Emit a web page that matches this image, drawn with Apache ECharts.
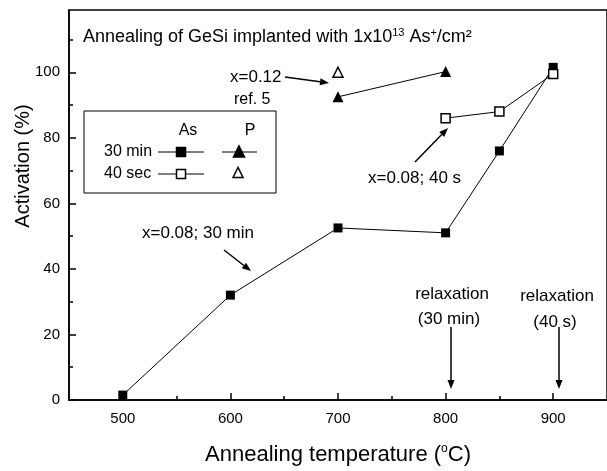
<!DOCTYPE html>
<html>
<head>
<meta charset="utf-8">
<script src="https://cdn.jsdelivr.net/npm/echarts@6/dist/echarts.min.js"></script>
<style>
  html, body { margin: 0; padding: 0; background: #fff; }
  #chart { width: 607px; height: 471px; }
</style>
</head>
<body>
<div id="chart"></div>
<script>
// activation vs annealing temperature, GeSi implanted with As / P
const tempsAs30 = [500, 600, 700, 800, 850, 900];
const actAs30 = [1.5, 32, 52.5, 51, 76, 101.5];
const tempsAs40 = [800, 850, 900];
const actAs40 = [86, 88, 99.5];
const tempsP30 = [700, 800];
const actP30 = [92.5, 100.2];
const tempsP40 = [700];
const actP40 = [100];

const xLabels = [500, 600, 700, 800, 900];
const xMinor = [550, 650, 750, 850];
const yLabels = [0, 20, 40, 60, 80, 100];

const FONT = "'Liberation Sans', Arial, sans-serif";
const zip = (xs, ys) => xs.map((x, i) => [x, ys[i]]);

// arrow annotation: a line with a filled head at (x2, y2)
function arrow(x1, y1, x2, y2) {
  const a = Math.atan2(y2 - y1, x2 - x1);
  const len = 9, w = 3.5;
  const bx = x2 - len * Math.cos(a), by = y2 - len * Math.sin(a);
  const px = -Math.sin(a) * w, py = Math.cos(a) * w;
  return [
    { type: "line", shape: { x1, y1, x2: bx, y2: by }, style: { stroke: "#000", lineWidth: 1.5 } },
    { type: "polygon", shape: { points: [[x2, y2], [bx + px, by + py], [bx - px, by - py]] }, style: { fill: "#000" } },
  ];
}

function txt(x, y, text, extra) {
  return {
    type: "text", x, y,
    style: Object.assign({ text, font: "17px " + FONT, fill: "#000", textVerticalAlign: "middle" }, extra || {}),
  };
}

const tri = (cx, cy, s, fill) => ({
  type: "polygon",
  shape: { points: [[cx, cy - s * 0.55], [cx - s / 2, cy + s * 0.45], [cx + s / 2, cy + s * 0.45]] },
  style: { fill, stroke: "#000", lineWidth: 1.5 },
});
const sq = (cx, cy, s, fill) => ({
  type: "rect", shape: { x: cx - s / 2, y: cy - s / 2, width: s, height: s },
  style: { fill, stroke: "#000", lineWidth: 1.5 },
});
const seg = (x1, y1, x2, y2) => ({ type: "line", shape: { x1, y1, x2, y2 }, style: { stroke: "#000", lineWidth: 1 } });

const legend = [
  { type: "rect", shape: { x: 84, y: 111, width: 192, height: 82 }, style: { fill: "#fff", stroke: "#000", lineWidth: 1 } },
  txt(188, 131, "As", { font: "16px " + FONT, textAlign: "center" }),
  txt(250, 131, "P", { font: "16px " + FONT, textAlign: "center" }),
  txt(104, 152, "30 min", { font: "16px " + FONT }),
  txt(104, 174, "40 sec", { font: "16px " + FONT }),
  seg(158, 152, 204, 152), sq(181, 152, 9, "#000"),
  seg(222, 152, 257, 152), tri(239, 152, 11, "#000"),
  seg(158, 174, 204, 174), sq(181, 174, 9, "#fff"),
  tri(238, 173, 10, "#fff"),
];

const sup = { fontSize: 11, verticalAlign: "top", padding: [0, 0, 9, 0], fontFamily: FONT };

const notes = [
  {
    type: "text", x: 83, y: 37,
    style: {
      text: "Annealing of GeSi implanted with 1x10{s|13} As{s|+}/cm²",
      font: "18px " + FONT, fill: "#000", textVerticalAlign: "middle",
      rich: { s: sup },
    },
  },
  {
    type: "text", x: 23, y: 166, rotation: Math.PI / 2,
    style: { text: "Activation (%)", font: "20px " + FONT, fill: "#000", textAlign: "center", textVerticalAlign: "middle" },
  },
  txt(230, 77, "x=0.12"),
  txt(234, 100, "ref. 5", { font: "16px " + FONT }),
  ...arrow(285, 77, 329, 83),
  txt(368, 178, "x=0.08; 40 s"),
  ...arrow(415, 162, 448, 128),
  txt(142, 233, "x=0.08; 30 min"),
  ...arrow(224, 250, 251, 271),
  txt(452, 294, "relaxation", { textAlign: "center" }),
  txt(449, 319, "(30 min)", { textAlign: "center" }),
  txt(557, 296, "relaxation", { textAlign: "center" }),
  txt(555, 322, "(40 s)", { textAlign: "center" }),
  ...arrow(451, 327, 451, 389),
  ...arrow(559, 327, 559, 389),
];

const chart = echarts.init(document.getElementById("chart"), null, { renderer: "canvas" });

const baseSeries = { type: "line", lineStyle: { color: "#000", width: 1 }, z: 3 };

chart.setOption({
  animation: false,
  backgroundColor: "#fff",
  textStyle: { fontFamily: FONT, color: "#000" },
  grid: { left: 69, top: 10, right: -7, bottom: 71, show: true, borderColor: "#000", borderWidth: 1.5 },
  xAxis: [
    {
      type: "value", min: 450, max: 950, interval: 50,
      name: "Annealing temperature ({o|o}C)",
      nameLocation: "middle", nameGap: 43,
      nameTextStyle: { fontSize: 22, color: "#000", fontFamily: FONT, rich: { o: { fontSize: 12, verticalAlign: "top", padding: [0, 0, 12, 0], fontFamily: FONT } } },
      axisLine: { lineStyle: { color: "#000", width: 1.5 } },
      axisTick: { inside: true, length: 7, lineStyle: { color: "#000", width: 1.5 }, customValues: xLabels },
      axisLabel: { customValues: xLabels, fontSize: 15, color: "#000", margin: 11, fontFamily: FONT },
      splitLine: { show: false },
    },
    {
      type: "value", min: 450, max: 950, interval: 50, position: "bottom",
      axisLine: { show: false },
      axisTick: { inside: true, length: 4, lineStyle: { color: "#000", width: 1.5 }, customValues: xMinor },
      axisLabel: { show: false },
      splitLine: { show: false },
    },
  ],
  yAxis: {
    type: "value", min: 0, max: 119, interval: 20,
    axisLine: { lineStyle: { color: "#000", width: 1.5 } },
    axisTick: { inside: true, length: 7, lineStyle: { color: "#000", width: 1.5 }, customValues: yLabels },
    minorTick: { show: true, splitNumber: 2, length: 4, lineStyle: { color: "#000", width: 1.5 } },
    axisLabel: { customValues: yLabels, fontSize: 15, color: "#000", margin: 9, fontFamily: FONT },
    splitLine: { show: false },
  },
  series: [
    { ...baseSeries, name: "As 30 min", data: zip(tempsAs30, actAs30), symbol: "rect", symbolSize: 9,
      itemStyle: { color: "#000" } },
    { ...baseSeries, name: "As 40 sec", data: zip(tempsAs40, actAs40), symbol: "rect", symbolSize: 9, z: 4,
      itemStyle: { color: "#fff", borderColor: "#000", borderWidth: 1.5 } },
    { ...baseSeries, name: "P 30 min", data: zip(tempsP30, actP30), symbol: "triangle", symbolSize: 11,
      itemStyle: { color: "#000" } },
    { ...baseSeries, name: "P 40 sec", data: zip(tempsP40, actP40), symbol: "triangle", symbolSize: 10,
      itemStyle: { color: "#fff", borderColor: "#000", borderWidth: 1.5 } },
  ],
  graphic: [...legend, ...notes],
});
</script>
</body>
</html>
